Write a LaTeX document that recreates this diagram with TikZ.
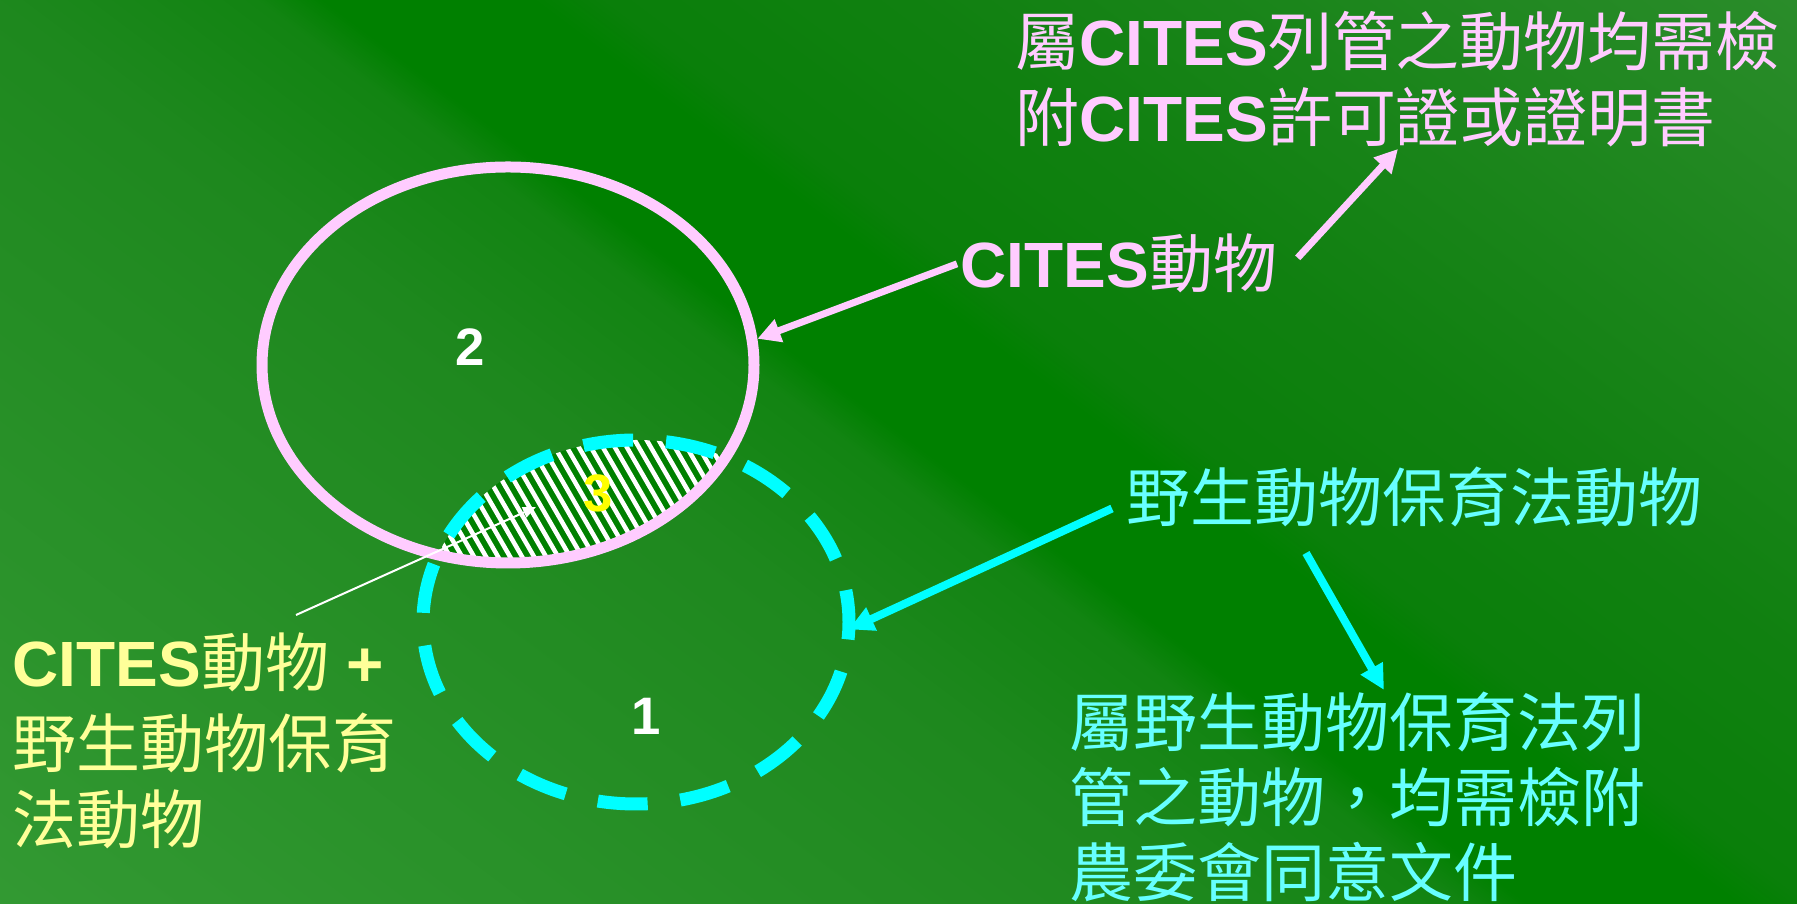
\documentclass[tikz,border=0pt]{standalone}
\usepackage{fontspec}
\setmainfont{Liberation Sans}
\newfontfamily\cjk{Noto Sans CJK TC}
\usetikzlibrary{arrows.meta,shapes.geometric}
\definecolor{bgA}{RGB}{53,155,53}
\definecolor{bgB}{RGB}{30,136,30}
\definecolor{bgBb}{RGB}{18,132,18}
\definecolor{bgC}{RGB}{0,128,0}
\definecolor{bgD}{RGB}{10,127,10}
\definecolor{bgDd}{RGB}{16,128,16}
\definecolor{bgE}{RGB}{42,140,42}
\definecolor{bgF}{RGB}{46,142,46}
\definecolor{pinkc}{RGB}{255,204,255}
\definecolor{cyanl}{RGB}{0,255,255}
\definecolor{cyant}{RGB}{102,255,255}
\definecolor{yelt}{RGB}{255,255,153}
\definecolor{yelthree}{RGB}{255,255,0}
\definecolor{hatchbg}{RGB}{0,128,0}
\pgfdeclarehorizontalshading{bgshade}{100bp}{color(0bp)=(bgA); color(25bp)=(bgA); color(45bp)=(bgB); color(49bp)=(bgBb); color(50bp)=(bgC); color(53.15bp)=(bgC); color(54.25bp)=(bgD); color(58.75bp)=(bgDd); color(72.1bp)=(bgE); color(75bp)=(bgF); color(100bp)=(bgF)}
\newcommand{\C}[1]{{\cjk\mdseries #1}}
\newcommand{\bigtxt}{\fontsize{18.2pt}{21.3pt}\selectfont\bfseries}
\begin{document}
\begin{tikzpicture}[x=0.1mm,y=-0.1mm,
  pinkarrow/.style={draw=pinkc, line width=0.7mm, -{Triangle[length=2.3mm,width=2.3mm]}},
  cyanarrow/.style={draw=cyanl, line width=0.8mm, -{Triangle[length=2.5mm,width=2.4mm]}},
  whitearrow/.style={draw=white, line width=0.2mm, -{Triangle[length=1.3mm,width=1.1mm]}},
  lbl/.style={inner sep=0pt, anchor=base west, font=\bigtxt},
  num/.style={inner sep=0pt, font=\fontsize{15pt}{17pt}\selectfont\bfseries}
]
\useasboundingbox (0,0) rectangle (1797,904);
% background gradient
\begin{scope}
  \clip (0,0) rectangle (1797,904);
  \begin{scope}[transform canvas={rotate around={53.13:(323,0)}}]
    \shade[shading=bgshade] ([shift={(-100mm,-250mm)}]323,0) rectangle ([shift={(100mm,250mm)}]323,0);
  \end{scope}
\end{scope}
% hatched intersection
\begin{scope}
  \clip (508,365) ellipse [x radius=24.6mm, y radius=19.8mm];
  \clip (636,622) ellipse [x radius=21.3mm, y radius=18.2mm];
  \fill[hatchbg] (380,400) rectangle (780,600);
  \foreach \X in {228,240,...,780} \draw[white, line width=0.45mm] (\X,380) -- ++(115.5,200);
\end{scope}
% ellipses
\node[ellipse, draw=cyanl, line width=1.3mm, dash pattern=on 5mm off 3.29mm, dash phase=1.8mm,
      minimum width=42.6mm, minimum height=36.4mm, inner sep=0pt, outer sep=0pt] (cyanell) at (636,622) {};
\node[ellipse, draw=pinkc, line width=1.1mm, minimum width=49.2mm, minimum height=39.6mm,
      inner sep=0pt, outer sep=0.55mm] (pinkell) at (508,365) {};
% numbers
\node[num, text=white] (n2) at (470,347) {2};
\node[num, text=yelthree] (n3) at (598,493) {3};
\node[num, text=white] (n1) at (646,716) {1};
% texts
\node[lbl, text=pinkc] (top1) at (1015,66) {\C{屬}CITES\C{列管之動物均需檢}};
\node[lbl, text=pinkc] (top2) at (1015,142) {\C{附}CITES\C{許可證或證明書}};
\node[lbl, text=pinkc] (labCITES) at (960,288) {CITES\C{動物}};
\node[lbl, text=cyant] (labWL) at (1126,522) {\C{野生動物保育法動物}};
\node[lbl, text=cyant] (bot1) at (1069,747) {\C{屬野生動物保育法列}};
\node[lbl, text=cyant] (bot2) at (1069,822) {\C{管之動物，均需檢附}};
\node[lbl, text=cyant] (bot3) at (1069,897) {\C{農委會同意文件}};
\node[lbl, text=yelt] (yel1) at (12,687) {CITES\C{動物} +};
\node[lbl, text=yelt] (yel2) at (12,768) {\C{野生動物保育}};
\node[lbl, text=yelt] (yel3) at (12,844) {\C{法動物}};
% arrows
\draw[pinkarrow] ([xshift=-0.3mm]labCITES.west) -- (pinkell.6);
\draw[pinkarrow] ([shift={(20,-6)}]labCITES.east) -- ([shift={(383,7)}]top2.base west);
\draw[cyanarrow] ([shift={(-14,11)}]labWL.west) -- (cyanell.-2);
\draw[cyanarrow] ([shift={(180,31)}]labWL.base west) -- ([shift={(315,-57)}]bot1.base west);
\draw[whitearrow] ([shift={(284,-72)}]yel1.base west) -- ([shift={(-62,14)}]n3.center);
\end{tikzpicture}
\end{document}
